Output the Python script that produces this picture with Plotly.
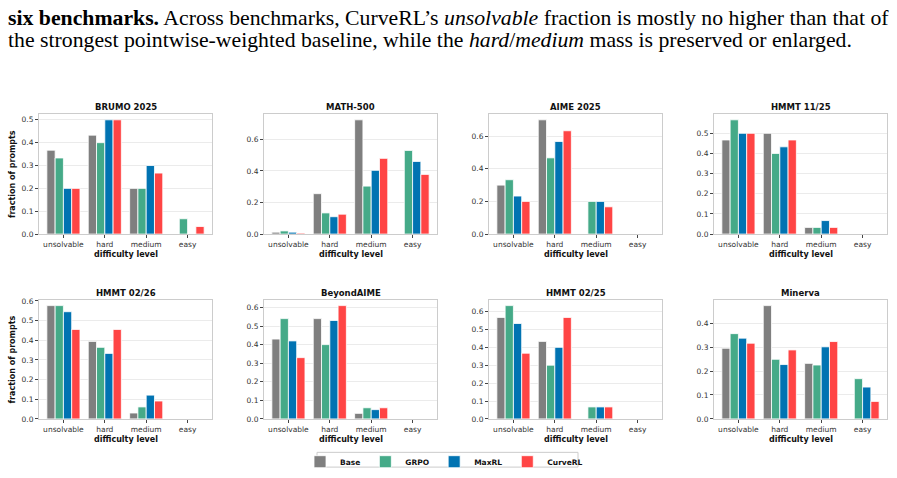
import plotly.graph_objects as go

W, H = 897, 478

categories = ["unsolvable", "hard", "medium", "easy"]
methods = ["Base", "GRPO", "MaxRL", "CurveRL"]
method_colors = ["#7f7f7f", "#45aa88", "#0173b2", "#ff4545"]

benchmarks = ["BRUMO 2025", "MATH-500", "AIME 2025", "HMMT 11/25",
              "HMMT 02/26", "BeyondAIME", "HMMT 02/25", "Minerva"]

# values per benchmark: one list per method, in order unsolvable, hard, medium, easy
brumo_2025 = {"Base": [0.367, 0.433, 0.200, 0.0], "GRPO": [0.333, 0.400, 0.200, 0.067],
              "MaxRL": [0.200, 0.500, 0.300, 0.0], "CurveRL": [0.200, 0.500, 0.267, 0.033]}
math_500 = {"Base": [0.012, 0.256, 0.724, 0.0], "GRPO": [0.020, 0.134, 0.304, 0.530],
            "MaxRL": [0.012, 0.110, 0.404, 0.460], "CurveRL": [0.006, 0.126, 0.480, 0.378]}
aime_2025 = {"Base": [0.300, 0.700, 0.0, 0.0], "GRPO": [0.333, 0.467, 0.200, 0.0],
             "MaxRL": [0.233, 0.567, 0.200, 0.0], "CurveRL": [0.200, 0.633, 0.167, 0.0]}
hmmt_11_25 = {"Base": [0.467, 0.500, 0.033, 0.0], "GRPO": [0.567, 0.400, 0.033, 0.0],
              "MaxRL": [0.500, 0.433, 0.067, 0.0], "CurveRL": [0.500, 0.467, 0.033, 0.0]}
hmmt_02_26 = {"Base": [0.576, 0.394, 0.030, 0.0], "GRPO": [0.576, 0.364, 0.061, 0.0],
              "MaxRL": [0.545, 0.333, 0.121, 0.0], "CurveRL": [0.455, 0.455, 0.091, 0.0]}
beyond_aime = {"Base": [0.43, 0.54, 0.03, 0.0], "GRPO": [0.54, 0.40, 0.06, 0.0],
               "MaxRL": [0.42, 0.53, 0.05, 0.0], "CurveRL": [0.33, 0.61, 0.06, 0.0]}
hmmt_02_25 = {"Base": [0.567, 0.433, 0.0, 0.0], "GRPO": [0.633, 0.300, 0.067, 0.0],
              "MaxRL": [0.533, 0.400, 0.067, 0.0], "CurveRL": [0.367, 0.567, 0.067, 0.0]}
minerva = {"Base": [0.295, 0.473, 0.232, 0.0], "GRPO": [0.356, 0.249, 0.225, 0.168],
           "MaxRL": [0.337, 0.227, 0.301, 0.133], "CurveRL": [0.316, 0.288, 0.323, 0.073]}

bench_data = [brumo_2025, math_500, aime_2025, hmmt_11_25,
              hmmt_02_26, beyond_aime, hmmt_02_25, minerva]
y_dticks = [0.1, 0.2, 0.2, 0.1, 0.1, 0.1, 0.1, 0.1]

caption_line1 = ("<b>six benchmarks.</b> Across benchmarks, CurveRL\u2019s <i>unsolvable</i> "
                 "fraction is mostly no higher than that of")
caption_line2 = ("the strongest pointwise-weighted baseline, while the <i>hard</i>/<i>medium</i> "
                 "mass is preserved or enlarged.")

# ---- layout geometry (pixels) ----
lefts = [39, 264, 489, 714]
pw = 173
rows = [(113, 235), (302, 423)]

fig = go.Figure()
layout = dict(
    width=W, height=H, margin=dict(l=0, r=0, t=0, b=0),
    paper_bgcolor="white", plot_bgcolor="white",
    barmode="group", bargap=0.2, bargroupgap=0.0,
    font=dict(family="DejaVu Sans", color="#262626"),
    showlegend=True,
    legend=dict(orientation="h", x=444 / W, xanchor="center", y=1 - 466.5 / H, yanchor="middle",
                borderwidth=0, bgcolor="rgba(0,0,0,0)",
                font=dict(size=7.5, family="DejaVu Sans", color="#111", weight="bold"),
                itemwidth=30, tracegroupgap=0),
    shapes=[dict(type="rect", xref="paper", yref="paper",
                 x0=317 / W, x1=578 / W, y0=1 - 472 / H, y1=1 - 457 / H,
                 line=dict(color="#cccccc", width=1), fillcolor="white", layer="below")],
)
annotations = []

for i, (name, data) in enumerate(zip(benchmarks, bench_data)):
    r, c = divmod(i, 4)
    k = i + 1
    top, bot = rows[r]
    left = lefts[c]
    xa = "x" if k == 1 else f"x{k}"
    ya = "y" if k == 1 else f"y{k}"
    ymax = max(max(v) for v in data.values()) * 1.05
    for m, col in zip(methods, method_colors):
        fig.add_trace(go.Bar(
            x=categories, y=data[m], name=m, legendgroup=m, showlegend=(i == 0),
            marker=dict(color=col, line=dict(color="white", width=0.8)),
            xaxis=xa, yaxis=ya,
        ))
    layout["xaxis" if k == 1 else f"xaxis{k}"] = dict(
        domain=[left / W, (left + pw) / W], anchor=ya,
        type="category", categoryorder="array", categoryarray=categories,
        range=[-0.59, 3.59], showline=True, mirror=True, linecolor="#cccccc", linewidth=1,
        ticks="outside", ticklen=3, tickwidth=1, tickcolor="#444",
        tickfont=dict(size=7.5, color="#333"), showgrid=False, zeroline=False,
    )
    layout["yaxis" if k == 1 else f"yaxis{k}"] = dict(
        domain=[1 - bot / H, 1 - top / H], anchor=xa,
        range=[0, ymax], dtick=y_dticks[i], tick0=0, tickformat=".1f",
        showline=True, mirror=True, linecolor="#cccccc", linewidth=1,
        ticks="outside", ticklen=3, tickwidth=1, tickcolor="#444",
        tickfont=dict(size=7.5, color="#333"), showgrid=True, gridcolor="#ebebeb",
        gridwidth=1, zeroline=False,
    )
    # panel title
    annotations.append(dict(text=f"<b>{name}</b>", x=(left + pw / 2) / W, y=1 - (top - 7) / H,
                            xref="paper", yref="paper", showarrow=False, xanchor="center",
                            yanchor="middle", font=dict(size=8.5, color="#111")))
    # x-axis label
    annotations.append(dict(text="<b>difficulty level</b>", x=(left + pw / 2) / W,
                            y=1 - (bot + 21) / H, xref="paper", yref="paper",
                            showarrow=False, xanchor="center", yanchor="middle",
                            font=dict(size=8, color="#111")))
    if c == 0:
        annotations.append(dict(text="<b>fraction of prompts</b>", x=12 / W,
                                y=1 - ((top + bot) / 2) / H, xref="paper", yref="paper",
                                showarrow=False, xanchor="center", yanchor="middle",
                                textangle=-90, font=dict(size=8, color="#111")))

for txt, yp in [(caption_line1, 15), (caption_line2, 38)]:
    annotations.append(dict(text=txt, x=6 / W, y=1 - yp / H, xref="paper", yref="paper",
                            showarrow=False, xanchor="left", yanchor="middle",
                            font=dict(family="Liberation Serif", size=21.75, color="black")))

layout["annotations"] = annotations
fig.update_layout(**layout)
fig.write_html("out.html")
